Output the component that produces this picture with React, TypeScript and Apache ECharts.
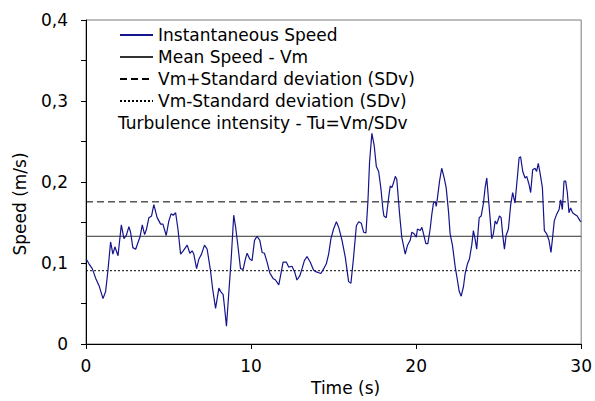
import React, { useEffect, useRef } from "react";
import * as echarts from "echarts";

const TIME_S: number[] = [
  0, 0.04, 0.18, 0.38, 0.59, 0.79, 1.03, 1.19, 1.33, 1.49, 1.63, 1.75, 1.94, 2.14, 2.3, 2.44, 2.6, 2.7, 2.84, 3.01,
  3.16, 3.27, 3.41, 3.55, 3.67, 3.81, 3.97, 4.11, 4.31, 4.52, 4.66, 4.86, 5.02, 5.16, 5.28, 5.43, 5.57, 5.73, 5.89,
  6.13, 6.29, 6.43, 6.53, 6.7, 6.84, 7.0, 7.18, 7.34, 7.54, 7.68, 7.85, 8.05, 8.15, 8.31, 8.39, 8.51, 8.65, 8.79,
  8.95, 9.06, 9.21, 9.36, 9.52, 9.66, 9.76, 9.92, 10.06, 10.21, 10.36, 10.53, 10.67, 10.81, 10.97, 11.13, 11.33,
  11.48, 11.68, 11.81, 11.94,
  12.14, 12.28, 12.48, 12.64, 12.78, 12.95, 13.09, 13.23, 13.39, 13.59, 13.79, 13.96, 14.1, 14.23, 14.4, 14.56,
  14.7, 14.84, 15.0, 15.17, 15.31, 15.51, 15.71, 15.91, 16.05, 16.21, 16.38, 16.52, 16.68, 16.82, 16.96, 17.08,
  17.18, 17.32, 17.46, 17.59, 17.73, 17.86, 17.99,
  18.05, 18.19, 18.33, 18.43, 18.53, 18.63, 18.74, 18.83, 19.0, 19.13, 19.34, 19.48, 19.64, 19.74, 19.88, 20.01,
  20.08, 20.25, 20.35, 20.45, 20.59, 20.71, 20.85, 20.95, 21.05, 21.16, 21.22, 21.29, 21.42, 21.55, 21.7, 21.82,
  21.96, 22.06, 22.2, 22.37, 22.5, 22.61, 22.73, 22.87, 22.97, 23.11, 23.23, 23.37, 23.47, 23.57, 23.67, 23.82,
  23.94, 24.08,
  24.18, 24.28, 24.38, 24.48, 24.58, 24.68, 24.79, 24.88, 25.05, 25.15, 25.24, 25.35, 25.45, 25.59, 25.73, 25.85,
  25.99, 26.13, 26.24, 26.33, 26.46, 26.6, 26.7, 26.84, 26.94, 27.06, 27.2, 27.3, 27.4, 27.51, 27.65, 27.77, 27.91,
  28.05, 28.17, 28.27, 28.37, 28.51, 28.66, 28.75, 28.86, 28.96, 29.06, 29.16, 29.26, 29.36, 29.48, 29.62, 29.76,
  29.93, 30.0,
];

const SPEED: number[] = [
  0.105, 0.104, 0.099, 0.093, 0.081, 0.072, 0.056, 0.065, 0.091, 0.126, 0.111, 0.12, 0.109, 0.147, 0.13, 0.134,
  0.145, 0.138, 0.119, 0.117, 0.126, 0.132, 0.147, 0.135, 0.142, 0.156, 0.158, 0.172, 0.156, 0.148, 0.148, 0.134,
  0.152, 0.161, 0.159, 0.162, 0.142, 0.111, 0.115,
  0.122, 0.112, 0.115, 0.111, 0.093, 0.105, 0.111, 0.122, 0.117, 0.091, 0.067, 0.044, 0.069, 0.065, 0.061, 0.046,
  0.022, 0.063, 0.103, 0.159, 0.145, 0.12, 0.093, 0.092, 0.105, 0.112, 0.105, 0.103, 0.128, 0.133, 0.128, 0.113,
  0.112, 0.101, 0.088, 0.081, 0.079, 0.073, 0.087, 0.101,
  0.101, 0.095, 0.096, 0.089, 0.079, 0.084, 0.093, 0.103, 0.108, 0.101, 0.091, 0.089, 0.088, 0.087, 0.093, 0.099,
  0.111, 0.13, 0.142, 0.151, 0.144, 0.128, 0.107, 0.077, 0.075, 0.107, 0.146, 0.151, 0.149, 0.138, 0.137, 0.176,
  0.225, 0.26, 0.245, 0.219, 0.213, 0.193, 0.166,
  0.158, 0.156, 0.18, 0.195, 0.193, 0.199, 0.207, 0.203, 0.16, 0.132, 0.111, 0.122, 0.128, 0.138, 0.136, 0.132,
  0.142, 0.14, 0.144, 0.136, 0.124, 0.124, 0.142, 0.16, 0.174, 0.176, 0.17, 0.18, 0.201, 0.217, 0.205, 0.193,
  0.164, 0.136, 0.122, 0.095, 0.079, 0.065, 0.059, 0.071, 0.087, 0.099, 0.105, 0.122, 0.14, 0.13, 0.117, 0.156,
  0.158, 0.174,
  0.193, 0.205, 0.18, 0.156, 0.13, 0.136, 0.152, 0.148, 0.158, 0.156, 0.136, 0.117, 0.134, 0.142, 0.172, 0.187,
  0.174, 0.205, 0.23, 0.231, 0.213, 0.205, 0.207, 0.197, 0.187, 0.215, 0.217, 0.213, 0.223, 0.211, 0.193, 0.14,
  0.136, 0.128, 0.113, 0.132, 0.152, 0.16, 0.166, 0.178, 0.166, 0.201, 0.201, 0.187, 0.162, 0.168, 0.162, 0.16,
  0.158, 0.152, 0.151,
];

const MEAN_SPEED = 0.133;
const STD_DEV = 0.0425;
const TIME_RANGE: number[] = [0, 30];

const SERIES_NAMES: string[] = [
  "Instantaneous Speed",
  "Mean Speed - Vm",
  "Vm+Standard deviation (SDv)",
  "Vm-Standard deviation (SDv)",
];
const TURBULENCE_LABEL = "Turbulence intensity - Tu=Vm/SDv";

const X_AXIS_TITLE = "Time (s)";
const Y_AXIS_TITLE = "Speed (m/s)";

const FONT = "DejaVu Sans";

export default function App() {
  const ref = useRef<HTMLDivElement>(null);

  useEffect(() => {
    if (!ref.current) return;
    const chart = echarts.init(ref.current, undefined, { renderer: "svg" });
    const speedData = TIME_S.map((t, i) => [t, SPEED[i]]);
    const hLine = (v: number) => TIME_RANGE.map((t) => [t, v]);

    chart.setOption({
      animation: false,
      backgroundColor: "#ffffff",
      textStyle: { fontFamily: FONT },
      grid: {
        left: 86,
        top: 20,
        right: 13,
        bottom: 53,
        show: true,
        borderColor: "#7a7a7a",
        borderWidth: 1,
        backgroundColor: "transparent",
      },
      legend: {
        orient: "vertical",
        left: 119,
        top: 26,
        padding: 0,
        itemWidth: 33,
        itemHeight: 12,
        itemGap: 4,
        data: SERIES_NAMES,
        itemStyle: { opacity: 0 },
        textStyle: { fontFamily: FONT, fontSize: 17, color: "#000", lineHeight: 18 },
      },
      graphic: [
        {
          type: "text",
          left: 118,
          top: 114,
          style: { text: TURBULENCE_LABEL, font: `17px '${FONT}'`, fill: "#000" },
        },
      ],
      xAxis: {
        type: "value",
        min: 0,
        max: 30,
        interval: 10,
        name: X_AXIS_TITLE,
        nameLocation: "middle",
        nameGap: 35,
        nameTextStyle: { fontFamily: FONT, fontSize: 17, color: "#000", padding: [0, 0, 0, 24] },
        axisLine: { show: true, lineStyle: { color: "#000", width: 1 } },
        axisTick: { show: true, length: 5, lineStyle: { color: "#000" } },
        axisLabel: { fontFamily: FONT, fontSize: 17, color: "#000", margin: 13 },
        splitLine: { show: false },
      },
      yAxis: {
        type: "value",
        min: 0,
        max: 0.4,
        interval: 0.1,
        name: Y_AXIS_TITLE,
        nameLocation: "middle",
        nameGap: 58,
        nameTextStyle: { fontFamily: FONT, fontSize: 17, color: "#000", padding: [0, 44, 0, 0] },
        axisLine: { show: true, lineStyle: { color: "#000", width: 1 } },
        axisTick: { show: true, length: 5, lineStyle: { color: "#000" } },
        minorTick: { show: true, splitNumber: 2, length: 5, lineStyle: { color: "#000" } },
        axisLabel: {
          fontFamily: FONT,
          fontSize: 17,
          color: "#000",
          margin: 18,
          formatter: (v: number) => (v === 0 ? "0" : v.toFixed(1).replace(".", ",")),
        },
        splitLine: { show: false },
      },
      series: [
        {
          name: SERIES_NAMES[0],
          type: "line",
          data: speedData,
          symbol: "none",
          smooth: false,
          lineStyle: { color: "#14148c", width: 1.2 },
          itemStyle: { color: "#14148c" },
          z: 5,
        },
        {
          name: SERIES_NAMES[1],
          type: "line",
          data: hLine(MEAN_SPEED),
          symbol: "none",
          lineStyle: { color: "#333333", width: 1 },
          itemStyle: { color: "#333333" },
        },
        {
          name: SERIES_NAMES[2],
          type: "line",
          data: hLine(MEAN_SPEED + STD_DEV),
          symbol: "none",
          lineStyle: { color: "#000", width: 1, type: [7, 4] },
          itemStyle: { color: "#000" },
        },
        {
          name: SERIES_NAMES[3],
          type: "line",
          data: hLine(MEAN_SPEED - STD_DEV),
          symbol: "none",
          lineStyle: { color: "#000", width: 1, type: [2, 2] },
          itemStyle: { color: "#000" },
        },
      ],
    });
    return () => chart.dispose();
  }, []);

  return (
    <div
      ref={ref}
      style={{ position: "fixed", left: 0, top: 0, width: 595, height: 401, background: "#fff" }}
    />
  );
}
